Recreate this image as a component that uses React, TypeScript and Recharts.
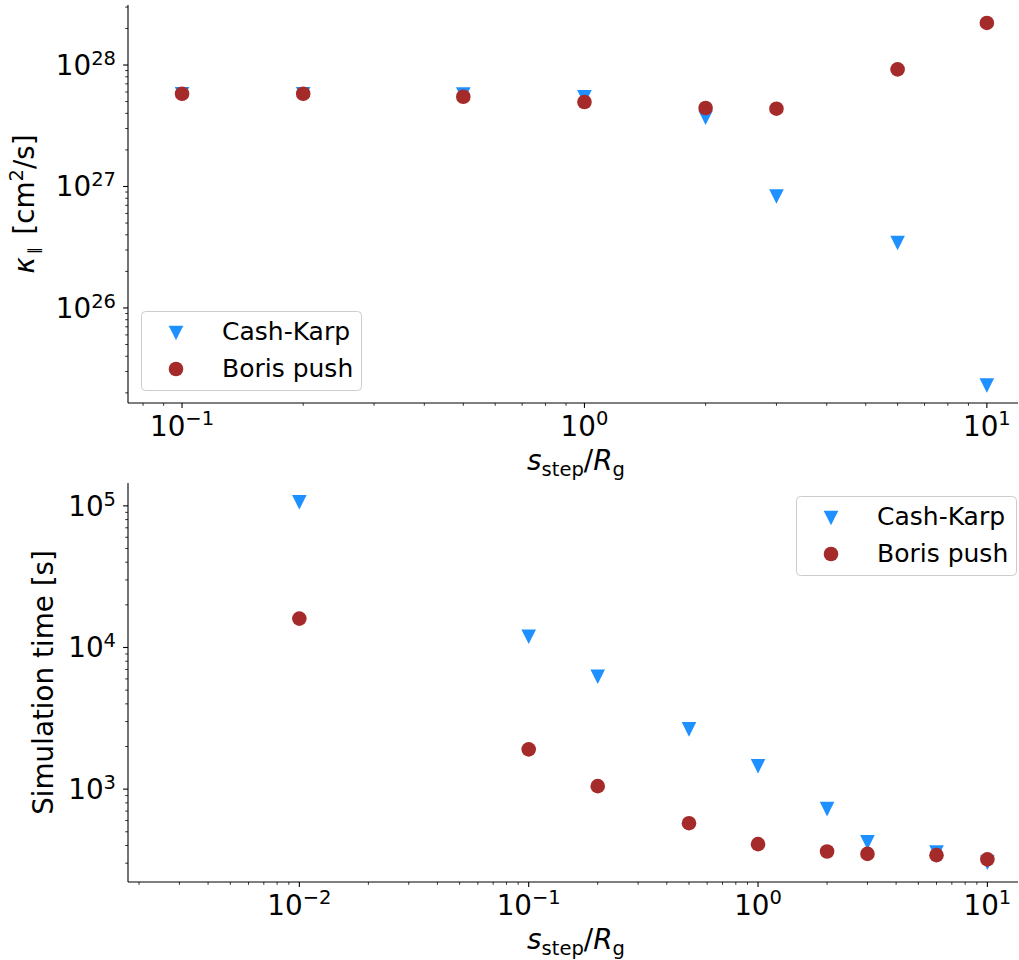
import React from 'react';
import { ScatterChart, Scatter, XAxis, YAxis, Legend, Label } from 'recharts';

// ---------- data ----------
const stepTop = [0.1, 0.2, 0.5, 1, 2, 3, 6, 10];
const kappaCashKarp = [5.75e27, 5.75e27, 5.7e27, 5.42e27, 3.68e27, 8.26e26, 3.43e26, 2.3e25];
const kappaBoris = [5.8e27, 5.8e27, 5.48e27, 4.96e27, 4.43e27, 4.37e27, 9.2e27, 2.22e28];

const stepBottom = [0.01, 0.1, 0.2, 0.5, 1, 2, 3, 6, 10];
const timeCashKarp = [1.06e5, 1.19e4, 6.21e3, 2.64e3, 1.45e3, 723, 421, 357, 303];
const timeBoris = [1.6e4, 1.91e3, 1.05e3, 575, 409, 363, 349, 342, 319];

const seriesNames = ['Cash-Karp', 'Boris push'];

// ---------- ticks ----------
const topXMajor = [0.1, 1, 10];
const topXMinor = [0.08, 0.09, 0.2, 0.3, 0.4, 0.5, 0.6, 0.7, 0.8, 0.9, 2, 3, 4, 5, 6, 7, 8, 9];
const topYMajor = [1e26, 1e27, 1e28];
const topYMinor = [
  2e25, 3e25, 4e25, 5e25, 6e25, 7e25, 8e25, 9e25,
  2e26, 3e26, 4e26, 5e26, 6e26, 7e26, 8e26, 9e26,
  2e27, 3e27, 4e27, 5e27, 6e27, 7e27, 8e27, 9e27,
  2e28, 3e28,
];
const botXMajor = [0.01, 0.1, 1, 10];
const botXMinor = [
  0.002, 0.003, 0.004, 0.005, 0.006, 0.007, 0.008, 0.009,
  0.02, 0.03, 0.04, 0.05, 0.06, 0.07, 0.08, 0.09,
  0.2, 0.3, 0.4, 0.5, 0.6, 0.7, 0.8, 0.9,
  2, 3, 4, 5, 6, 7, 8, 9,
];
const botYMajor = [1e3, 1e4, 1e5];
const botYMinor = [
  300, 400, 500, 600, 700, 800, 900,
  2000, 3000, 4000, 5000, 6000, 7000, 8000, 9000,
  20000, 30000, 40000, 50000, 60000, 70000, 80000, 90000,
];

// ---------- domains ----------
const topXDomain = [0.0734, 11.95];
const topYDomain = [1.65e25, 3.12e28];
const botXDomain = [0.00179, 13.6];
const botYDomain = [221, 1.45e5];

// ---------- style ----------
const FONT = 'DejaVu Sans';
const FS = 27.8;
const SUP = 19.5;
const LEG_FS = 25;
const BLUE = '#1e90ff';
const BROWN = '#a52a2a';
const MS = 7.3;

const isMajor = (v: number) => {
  const l = Math.log10(v);
  return Math.abs(l - Math.round(l)) < 1e-6;
};
const expStr = (v: number) => {
  const e = Math.round(Math.log10(v));
  return e < 0 ? '\u2212' + Math.abs(e) : String(e);
};

const BottomTick = (props: any) => {
  const { x, y, payload } = props;
  const v = payload.value;
  const major = isMajor(v);
  return (
    <g>
      <line x1={x} x2={x} y1={y} y2={y + (major ? 4.9 : 2.8)} stroke="#000" strokeWidth={major ? 1.1 : 0.8} />
      {major && (
        <text x={x} y={y + 33} textAnchor="middle" fontFamily={FONT} fontSize={FS} fill="#000">
          <tspan>10</tspan>
          <tspan dy={-11} fontSize={SUP}>{expStr(v)}</tspan>
        </text>
      )}
    </g>
  );
};

const LeftTick = (props: any) => {
  const { x, y, payload } = props;
  const v = payload.value;
  const major = isMajor(v);
  return (
    <g>
      <line x1={x - (major ? 4.9 : 2.8)} x2={x} y1={y} y2={y} stroke="#000" strokeWidth={major ? 1.1 : 0.8} />
      {major && (
        <text x={x - 12} y={y + 10} textAnchor="end" fontFamily={FONT} fontSize={FS} fill="#000">
          <tspan>10</tspan>
          <tspan dy={-10} fontSize={SUP}>{expStr(v)}</tspan>
        </text>
      )}
    </g>
  );
};

const TriangleDown = ({ cx, cy }: any) => (
  <polygon points={`${cx - MS},${cy - MS} ${cx + MS},${cy - MS} ${cx},${cy + MS}`} fill={BLUE} />
);
const Dot = ({ cx, cy }: any) => <circle cx={cx} cy={cy} r={MS} fill={BROWN} />;

const xLabel = (props: any) => {
  const vb = props.viewBox || { x: 128, y: 403, width: 890 };
  const cx = vb.x + vb.width / 2 + 3;
  const by = vb.y + 67;
  return (
    <text x={cx} y={by} textAnchor="middle" fontFamily={FONT} fontSize={FS} fill="#000">
      <tspan fontStyle="italic">s</tspan>
      <tspan fontSize={SUP} dy={6}>step</tspan>
      <tspan dy={-6}>/</tspan>
      <tspan fontStyle="italic">R</tspan>
      <tspan fontSize={SUP} dy={6}>g</tspan>
    </text>
  );
};

const makeYLabel = (baseX: number, kind: 'kappa' | 'time') => (props: any) => {
  const vb = props.viewBox || { y: 5, height: 398 };
  const cy = vb.y + vb.height / 2;
  if (kind === 'time') {
    return (
      <text transform={`translate(${baseX},${cy}) rotate(-90)`} x={0} y={0} textAnchor="middle" fontFamily={FONT} fontSize={FS} fill="#000">
        Simulation time [s]
      </text>
    );
  }
  return (
    <text transform={`translate(${baseX},${cy}) rotate(-90)`} x={0} y={0} textAnchor="middle" fontFamily={FONT} fontSize={FS} fill="#000" xmlSpace="preserve">
      <tspan fontStyle="italic">κ</tspan>
      <tspan fontSize={15} dy={5} dx={3}>∥</tspan>
      <tspan dy={-5} dx={12}>[cm</tspan>
      <tspan fontSize={SUP} dy={-11}>2</tspan>
      <tspan dy={11}>/s]</tspan>
    </text>
  );
};

const LegendBox = () => (
  <svg width={222} height={82} style={{ display: 'block' }}>
    <rect x={0.5} y={0.5} width={220} height={79} rx={4} ry={4} fill="#fff" fillOpacity={0.8} stroke="#cccccc" strokeWidth={1} />
    <TriangleDown cx={35} cy={22} />
    <text x={81} y={28.5} fontFamily={FONT} fontSize={LEG_FS} fill="#000">{seriesNames[0]}</text>
    <Dot cx={35} cy={58} />
    <text x={81} y={65.5} fontFamily={FONT} fontSize={LEG_FS} fill="#000">{seriesNames[1]}</text>
  </svg>
);

const topCK = stepTop.map((s, i) => ({ x: s, y: kappaCashKarp[i] }));
const topBP = stepTop.map((s, i) => ({ x: s, y: kappaBoris[i] }));
const botCK = stepBottom.map((s, i) => ({ x: s, y: timeCashKarp[i] }));
const botBP = stepBottom.map((s, i) => ({ x: s, y: timeBoris[i] }));

const Panel = ({
  height, marginTop, xHeight, xDomain, yDomain, xTicks, yTicks, ck, bp, yLabel, legendPos,
}: any) => (
  <ScatterChart width={1019} height={height} margin={{ top: marginTop, right: 1, bottom: 0, left: 0 }}>
    <XAxis
      dataKey="x" type="number" scale="log" domain={xDomain} allowDataOverflow
      ticks={xTicks} interval={0} tickSize={0} tickMargin={0} tickLine={false}
      tick={<BottomTick />} height={xHeight}
      axisLine={{ stroke: '#000', strokeWidth: 1.1 }}
    >
      <Label content={xLabel} />
    </XAxis>
    <XAxis
      xAxisId="top" orientation="top" type="number" scale="log" domain={xDomain} allowDataOverflow
      tick={false} tickLine={false} height={0} axisLine={{ stroke: '#000', strokeWidth: 1.1 }}
    />
    <YAxis
      dataKey="y" type="number" scale="log" domain={yDomain} allowDataOverflow
      ticks={yTicks} interval={0} tickSize={0} tickMargin={0} tickLine={false}
      tick={<LeftTick />} width={128}
      axisLine={{ stroke: '#000', strokeWidth: 1.1 }}
    >
      <Label content={yLabel} />
    </YAxis>
    <YAxis
      yAxisId="right" orientation="right" type="number" scale="log" domain={yDomain} allowDataOverflow
      tick={false} tickLine={false} width={0} axisLine={{ stroke: '#000', strokeWidth: 1.1 }}
    />
    <Scatter name={seriesNames[0]} data={ck} fill={BLUE} shape={(p: any) => <TriangleDown cx={p.cx} cy={p.cy} />} isAnimationActive={false} />
    <Scatter name={seriesNames[1]} data={bp} fill={BROWN} shape={(p: any) => <Dot cx={p.cx} cy={p.cy} />} isAnimationActive={false} />
    <Legend
      layout="vertical" align="center" verticalAlign="middle"
      content={() => <LegendBox />}
      wrapperStyle={{ position: 'absolute', left: legendPos[0], top: legendPos[1], width: 222, height: 82 }}
    />
  </ScatterChart>
);

export default function App() {
  return (
    <div style={{ position: 'absolute', left: 0, top: 0, width: 1019, height: 960, background: '#fff', fontFamily: FONT }}>
      <div style={{ position: 'absolute', left: 0, top: 0 }}>
        <Panel
          height={485} marginTop={5} xHeight={82}
          xDomain={topXDomain} yDomain={topYDomain}
          xTicks={[...topXMinor, ...topXMajor]} yTicks={[...topYMinor, ...topYMajor]}
          ck={topCK} bp={topBP}
          yLabel={makeYLabel(34, 'kappa')}
          legendPos={[141, 311]}
        />
      </div>
      <div style={{ position: 'absolute', left: 0, top: 470 }}>
        <Panel
          height={490} marginTop={13} xHeight={78}
          xDomain={botXDomain} yDomain={botYDomain}
          xTicks={[...botXMinor, ...botXMajor]} yTicks={[...botYMinor, ...botYMajor]}
          ck={botCK} bp={botBP}
          yLabel={makeYLabel(53, 'time')}
          legendPos={[796, 26]}
        />
      </div>
    </div>
  );
}
